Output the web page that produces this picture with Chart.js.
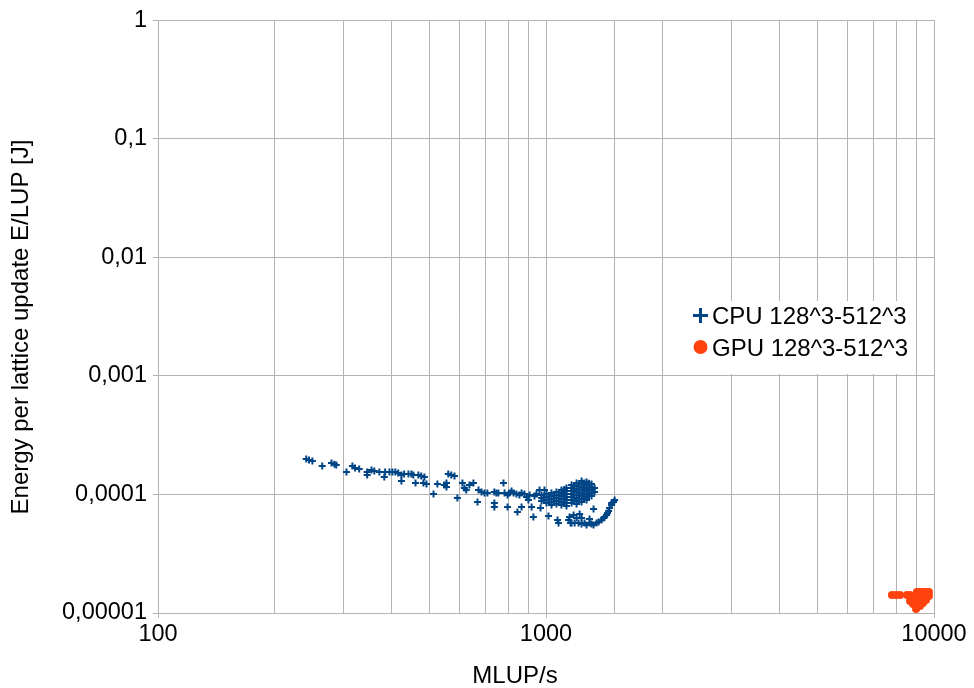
<!DOCTYPE html>
<html lang="en">

<head>
    <meta charset="UTF-8">
    <title>Energy per LUP</title>
    <script src="https://cdn.jsdelivr.net/npm/chart.js"></script>
    <style>
        body { margin: 0; background: #fff; }
    </style>
</head>

<body>
    <canvas id="myChart" width="974" height="688"></canvas>

    <script>
        // axis ticks
        const xTickValues = [100, 1000, 10000];
        const xTickLabels = ['100', '1000', '10000'];
        const yTickValues = [0.00001, 0.0001, 0.001, 0.01, 0.1, 1];
        const yTickLabels = ['0,00001', '0,0001', '0,001', '0,01', '0,1', '1'];

        const seriesNames = ['CPU 128^3-512^3', 'GPU 128^3-512^3'];

        // CPU runs: MLUP/s and energy per lattice update [J]
        const cpuMlups = [
            241, 245, 250, 265, 280, 285, 288, 306, 317, 322, 330, 346, 346, 355, 361, 372, 383, 385, 395, 402,
            409, 416, 424, 424, 431, 442, 450, 455, 461, 469, 477, 483, 486, 492, 513, 525, 547, 554, 560, 570,
            581, 554, 591, 609, 616, 623, 635, 650, 666, 670, 682, 694, 706, 736, 745, 754, 736, 736, 777, 782,
            796, 805, 796, 825, 839, 865, 880, 844, 865, 891, 901, 918, 928, 962, 991, 968, 1015, 1071, 1077, 1103,
            1143, 1157, 815, 854, 907, 934, 945,
            // lower arm
            1150, 1178, 1199, 1221, 1235, 1164, 1185, 1213, 1235, 1257, 1272, 1295, 1310, 1326, 1350, 1366, 1391,
            1408, 1416, 1433, 1441, 1450, 1458, 1476, 1494, 1503, 1476, 1326, 1295,
            // dense cloud
            974, 974, 974, 1003, 1003, 1003, 1003, 1033, 1033, 1033, 1033, 1033, 1064, 1064, 1064, 1064, 1064,
            1096, 1096, 1096, 1096, 1096, 1096, 1129, 1129, 1129, 1129, 1129, 1129, 1129,
            1164, 1164, 1164, 1164, 1164, 1164, 1164, 1199, 1199, 1199, 1199, 1199, 1199, 1199, 1199,
            1235, 1235, 1235, 1235, 1235, 1235, 1235, 1235, 1272, 1272, 1272, 1272, 1272, 1272, 1272,
            1310, 1310, 1310, 1310, 1310, 1334, 1334,
            1115, 1115, 1115, 1115, 1180, 1180, 1180, 1180, 1255, 1255, 1255, 1255, 1290, 1290, 1290
        ];
        const cpuEnergy = [
            1.99e-4, 1.95e-4, 1.91e-4, 1.735e-4, 1.84e-4, 1.80e-4, 1.77e-4, 1.545e-4, 1.735e-4, 1.67e-4,
            1.637e-4, 1.545e-4, 1.457e-4, 1.606e-4, 1.575e-4, 1.545e-4, 1.402e-4, 1.545e-4, 1.545e-4, 1.545e-4,
            1.545e-4, 1.515e-4, 1.457e-4, 1.297e-4, 1.486e-4, 1.486e-4, 1.486e-4, 1.457e-4, 1.248e-4, 1.457e-4,
            1.429e-4, 1.248e-4, 1.402e-4, 1.224e-4, 1.008e-4, 1.224e-4, 1.20e-4, 1.155e-4, 1.486e-4, 1.457e-4,
            1.429e-4, 1.248e-4, 0.932e-4, 1.248e-4, 1.132e-4, 1.089e-4, 1.20e-4, 1.248e-4, 0.863e-4, 1.089e-4,
            1.048e-4, 1.028e-4, 1.028e-4, 1.048e-4, 1.028e-4, 1.028e-4, 0.846e-4, 0.783e-4, 1.248e-4, 1.028e-4,
            0.989e-4, 1.028e-4, 0.783e-4, 1.028e-4, 1.008e-4, 1.028e-4, 1.008e-4, 0.711e-4, 0.783e-4, 0.951e-4,
            0.897e-4, 0.783e-4, 0.645e-4, 1.089e-4, 1.089e-4, 0.768e-4, 0.657e-4, 0.608e-4, 0.574e-4, 1.028e-4,
            0.608e-4, 0.574e-4, 1.068e-4, 0.989e-4, 0.989e-4, 0.969e-4, 1.008e-4,
            // lower arm
            0.645e-4, 0.670e-4, 0.632e-4, 0.684e-4, 0.632e-4, 0.574e-4, 0.574e-4, 0.574e-4, 0.563e-4, 0.574e-4,
            0.552e-4, 0.574e-4, 0.563e-4, 0.552e-4, 0.574e-4, 0.585e-4, 0.608e-4,
            0.632e-4, 0.645e-4, 0.670e-4, 0.697e-4, 0.724e-4, 0.768e-4, 0.814e-4, 0.863e-4, 0.897e-4, 0.846e-4,
            0.753e-4, 0.620e-4,
            // dense cloud
            0.989e-4, 0.932e-4, 0.879e-4, 1.008e-4, 0.951e-4, 0.897e-4, 0.846e-4,
            1.028e-4, 0.969e-4, 0.915e-4, 0.863e-4, 0.814e-4, 1.048e-4, 0.989e-4, 0.932e-4, 0.879e-4, 0.830e-4,
            1.089e-4, 1.028e-4, 0.969e-4, 0.915e-4, 0.863e-4, 0.814e-4,
            1.132e-4, 1.068e-4, 1.008e-4, 0.951e-4, 0.897e-4, 0.846e-4, 0.798e-4,
            1.20e-4, 1.132e-4, 1.068e-4, 1.008e-4, 0.951e-4, 0.897e-4, 0.846e-4,
            1.248e-4, 1.177e-4, 1.11e-4, 1.048e-4, 0.989e-4, 0.932e-4, 0.879e-4, 0.830e-4,
            1.297e-4, 1.224e-4, 1.155e-4, 1.089e-4, 1.028e-4, 0.969e-4, 0.915e-4, 0.863e-4,
            1.272e-4, 1.20e-4, 1.132e-4, 1.068e-4, 1.008e-4, 0.951e-4, 0.897e-4,
            1.224e-4, 1.155e-4, 1.089e-4, 1.028e-4, 0.969e-4, 1.132e-4, 1.048e-4,
            1.10e-4, 1.00e-4, 0.92e-4, 0.85e-4, 1.19e-4, 1.09e-4, 0.99e-4, 0.90e-4,
            1.25e-4, 1.12e-4, 1.00e-4, 0.92e-4, 1.24e-4, 1.10e-4, 0.98e-4
        ];

        // GPU runs
        const gpuMlups = [
            7790, 7980, 8175, 8519, 8674, 8674, 8830, 8882,
            9036, 9203, 9367, 9537, 9705, 9036, 9203, 9367, 9537, 9705,
            9036, 9203, 9367, 9537, 8990, 9203, 9367, 8990, 9203
        ];
        const gpuEnergy = [
            1.418e-5, 1.418e-5, 1.418e-5, 1.418e-5, 1.418e-5, 1.262e-5, 1.191e-5, 1.338e-5,
            1.503e-5, 1.503e-5, 1.503e-5, 1.503e-5, 1.503e-5, 1.391e-5, 1.391e-5, 1.391e-5, 1.391e-5, 1.391e-5,
            1.287e-5, 1.287e-5, 1.287e-5, 1.287e-5, 1.191e-5, 1.191e-5, 1.214e-5, 1.081e-5, 1.146e-5
        ];

        const cpuColor = '#004586';
        const gpuColor = '#ff420e';
        const gridColor = '#b3b3b3';
        const font = 'Liberation Sans, Arial, sans-serif';

        function toPoints(xs, ys) {
            var pts = [];
            for (var i = 0; i < xs.length; i++) {
                pts.push({ x: xs[i], y: ys[i] });
            }
            return pts;
        }

        // axis titles + boxed legend, drawn on top of the plot
        const decorations = {
            id: 'decorations',
            afterDraw(chart) {
                const c = chart.ctx;
                c.save();
                c.fillStyle = '#000';
                c.font = '24px ' + font;
                c.textAlign = 'center';
                c.textBaseline = 'middle';
                c.fillText('MLUP/s', 515, 676);
                c.translate(21, 327);
                c.rotate(-Math.PI / 2);
                c.fillText('Energy per lattice update E/LUP [J]', 0, 0);
                c.restore();

                c.save();
                c.fillStyle = '#fff';
                c.fillRect(686, 301, 226, 73);
                // CPU entry
                c.strokeStyle = cpuColor;
                c.lineWidth = 3;
                c.beginPath();
                c.moveTo(693, 315.5); c.lineTo(708, 315.5);
                c.moveTo(700.5, 308); c.lineTo(700.5, 323);
                c.stroke();
                // GPU entry
                c.fillStyle = gpuColor;
                c.beginPath();
                c.arc(700.5, 347, 7, 0, Math.PI * 2);
                c.fill();
                c.fillStyle = '#000';
                c.font = '24px ' + font;
                c.textAlign = 'left';
                c.textBaseline = 'alphabetic';
                c.fillText(seriesNames[0], 712, 323.5);
                c.fillText(seriesNames[1], 712, 355.5);
                c.restore();
            }
        };

        const ctx = document.getElementById('myChart');
        new Chart(ctx, {
            type: 'scatter',
            data: {
                datasets: [{
                    label: seriesNames[0],
                    data: toPoints(cpuMlups, cpuEnergy),
                    pointStyle: 'cross',
                    radius: 3.5,
                    borderWidth: 2,
                    borderColor: cpuColor,
                    backgroundColor: cpuColor
                }, {
                    label: seriesNames[1],
                    data: toPoints(gpuMlups, gpuEnergy),
                    pointStyle: 'circle',
                    radius: 4,
                    borderWidth: 0,
                    borderColor: gpuColor,
                    backgroundColor: gpuColor
                }]
            },
            options: {
                responsive: false,
                animation: false,
                layout: { padding: { left: 0, right: 40, top: 20, bottom: 0 } },
                plugins: {
                    legend: { display: false },
                    tooltip: { enabled: false }
                },
                scales: {
                    x: {
                        type: 'logarithmic',
                        min: 100,
                        max: 10000,
                        afterFit: (scale) => { scale.height = 75; },
                        border: { color: gridColor },
                        grid: {
                            color: gridColor,
                            tickLength: 5,
                            tickColor: (c) => xTickValues.includes(c.tick && c.tick.value) ? gridColor : 'rgba(0,0,0,0)'
                        },
                        ticks: {
                            autoSkip: false,
                            maxRotation: 0,
                            padding: 2,
                            color: '#000',
                            font: { family: font, size: 23.5 },
                            callback: (v) => {
                                const i = xTickValues.indexOf(v);
                                return i >= 0 ? xTickLabels[i] : '';
                            }
                        }
                    },
                    y: {
                        type: 'logarithmic',
                        min: 0.00001,
                        max: 1,
                        afterFit: (scale) => { scale.width = 158; },
                        afterBuildTicks: (scale) => {
                            scale.ticks = yTickValues.map((v) => ({ value: v }));
                        },
                        border: { color: gridColor },
                        grid: { color: gridColor, tickLength: 5, tickColor: gridColor },
                        ticks: {
                            padding: 6,
                            color: '#000',
                            font: { family: font, size: 23.5 },
                            callback: (v, i) => yTickLabels[i]
                        }
                    }
                }
            },
            plugins: [decorations]
        });
    </script>

</body>

</html>
